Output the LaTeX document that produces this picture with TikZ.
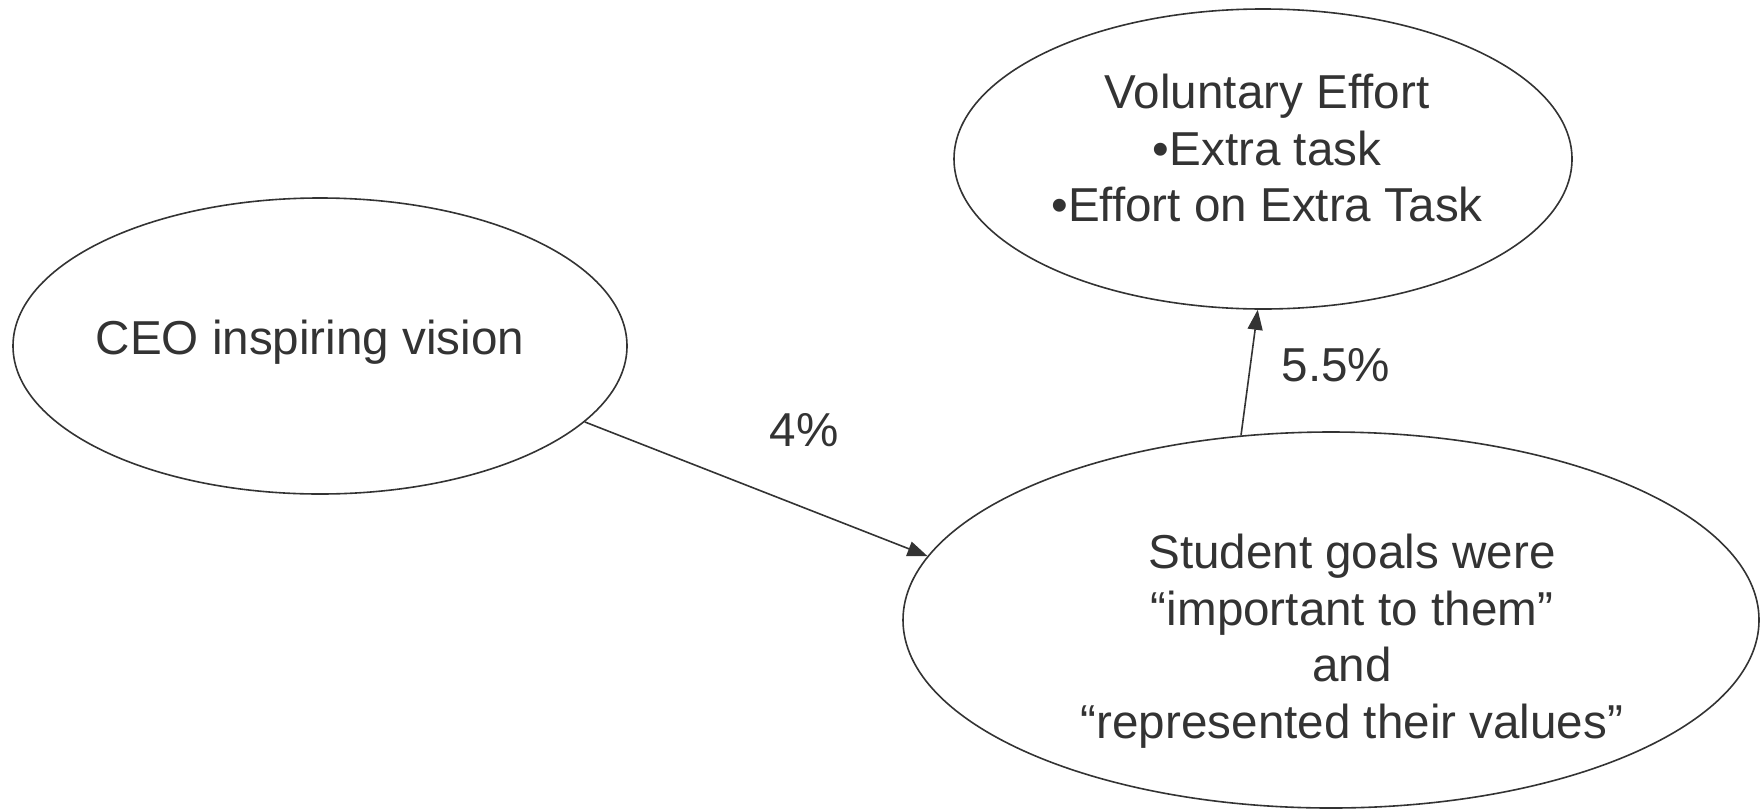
\documentclass[tikz,border=0pt]{standalone}
\usepackage{fontspec}
\setmainfont{Liberation Sans}
\usetikzlibrary{shapes.geometric,arrows.meta}
\definecolor{ink}{HTML}{333333}
\begin{document}
\begin{tikzpicture}[x=1pt,y=-1pt,
  oval/.style={ellipse,draw=ink,line width=1.6pt,inner sep=0pt},
  txt/.style={text=ink,align=center,inner sep=0pt,font=\fontsize{47.6pt}{56.5pt}\selectfont},
  link/.style={draw=ink,line width=1.6pt,-{Triangle[length=20pt,width=15pt]}}]
\useasboundingbox (0,0) rectangle (1760,809);
% ellipses
\node[oval,minimum width=614pt,minimum height=296pt] (ceo) at (320,346) {};
\node[oval,minimum width=618pt,minimum height=300pt] (vol) at (1263,159) {};
\node[oval,minimum width=856pt,minimum height=376pt] (stu) at (1331,620) {};
% texts
\node[txt] (ceotxt) at (310,342) {CEO inspiring vision};
\node[txt] (voltxt) at (1267,148) {Voluntary Effort\\•Extra task\\•Effort on Extra Task};
\node[txt] (stutxt) at (1352,641) {Student goals were\\“important to them”\\and\\“represented their values”};
% connectors
\draw[link] (ceo.-16) -- (stu.171.5);
\draw[link] (stu.116) -- (vol.-92);
\node[txt] (p1) at (804,430) {4\%};
\node[txt] (p2) at (1336,365) {5.5\%};
\end{tikzpicture}
\end{document}
